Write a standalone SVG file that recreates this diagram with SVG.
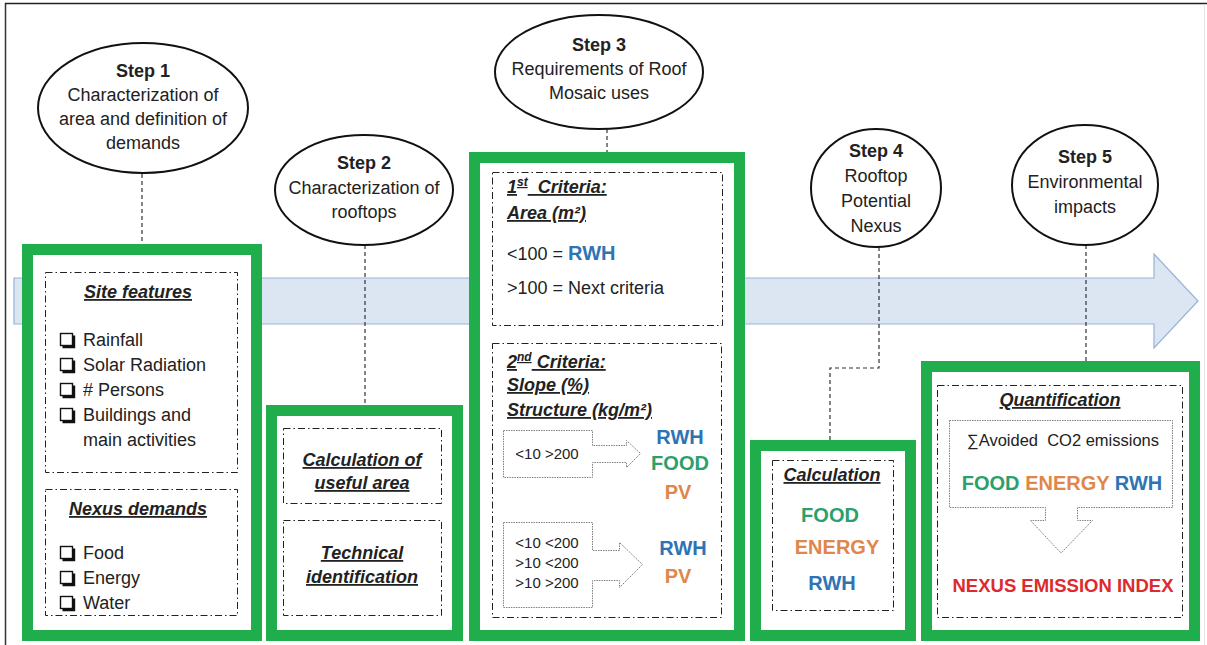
<svg xmlns="http://www.w3.org/2000/svg" width="1207" height="645" viewBox="0 0 1207 645">
<style>
text{font-family:"Liberation Sans",Arial,sans-serif;fill:#222;font-size:18px}
.m{text-anchor:middle}
.b{font-weight:bold}
.h{font-weight:bold;font-style:italic;text-decoration:underline}
.g{fill:#fff;stroke:#1fae4b;stroke-width:11}
.dd{fill:none;stroke:#222;stroke-width:1;stroke-dasharray:7 3 1.5 3}
.ell{fill:#fff;stroke:#111;stroke-width:2}
.con{fill:none;stroke:#333;stroke-width:1.2;stroke-dasharray:4 3}
.dot{fill:#fff;stroke:#808080;stroke-width:1;stroke-dasharray:1.5 1}
.k{font-weight:bold;font-size:20px}
.bl{fill:#2e74b5}
.gr{fill:#2b9f6c}
.or{fill:#e0864a}
.rd{fill:#dd2a2f}
.sm{font-size:15px}
.av{font-size:16.5px}
.nx{font-weight:bold;font-size:18.5px}
</style>
<defs>
<g id="cb">
<path d="M2.5,14 H14 V2.5" fill="none" stroke="#111" stroke-width="2.4"/>
<rect x="0.5" y="0.5" width="12" height="12" fill="#fff" stroke="#111" stroke-width="1.4"/>
</g>
</defs>
<rect width="1207" height="645" fill="#fff"/>
<g id="frame">
<line x1="5.5" y1="3" x2="5.5" y2="645" stroke="#333" stroke-width="1.5"/>
<line x1="5" y1="3.5" x2="1207" y2="3.5" stroke="#222" stroke-width="1.5"/>
<line x1="1204.5" y1="4" x2="1204.5" y2="645" stroke="#e4e4e4" stroke-width="1"/>
</g>
<g id="timeline">
<path d="M14,278 H1154 V254 L1198,301 L1154,348 V324 H14 Z" fill="#dce6f2" stroke="#95b3d7" stroke-width="1.2"/>
</g>
<g id="connectors">
<line class="con" x1="142" y1="174" x2="142" y2="244"/>
<line class="con" x1="365" y1="245" x2="365" y2="405"/>
<line class="con" x1="607" y1="129" x2="607" y2="152"/>
<path class="con" d="M879,247 V368 H830 V440"/>
<line class="con" x1="1086" y1="245" x2="1086" y2="361"/>
</g>
<g id="step1">
<ellipse class="ell" cx="143" cy="108" rx="105" ry="65"/>
<text class="m b" x="143" y="77">Step 1</text>
<text class="m" x="143" y="101">Characterization of</text>
<text class="m" x="143" y="125">area and definition of</text>
<text class="m" x="143" y="149">demands</text>
</g>
<g id="step2">
<ellipse class="ell" cx="364" cy="190" rx="89" ry="55"/>
<text class="m b" x="364" y="169">Step 2</text>
<text class="m" x="364" y="194">Characterization of</text>
<text class="m" x="364" y="218">rooftops</text>
</g>
<g id="step3">
<ellipse class="ell" cx="599" cy="72" rx="104" ry="57"/>
<text class="m b" x="599" y="51">Step 3</text>
<text class="m" x="599" y="75">Requirements of Roof</text>
<text class="m" x="599" y="99">Mosaic uses</text>
</g>
<g id="step4">
<ellipse class="ell" cx="876" cy="188" rx="65" ry="59"/>
<text class="m b" x="876" y="157">Step 4</text>
<text class="m" x="876" y="182">Rooftop</text>
<text class="m" x="876" y="207">Potential</text>
<text class="m" x="876" y="232">Nexus</text>
</g>
<g id="step5">
<ellipse class="ell" cx="1085" cy="185" rx="73" ry="60"/>
<text class="m b" x="1085" y="163">Step 5</text>
<text class="m" x="1085" y="188">Environmental</text>
<text class="m" x="1085" y="213">impacts</text>
</g>
<g id="box1">
<rect class="g" x="27.5" y="249.5" width="229" height="386"/>
<rect class="dd" x="45.5" y="272.5" width="192" height="200"/>
<text class="m h" x="138" y="298">Site features</text>
<use href="#cb" x="60" y="333"/><text x="83" y="346">Rainfall</text>
<use href="#cb" x="60" y="358"/><text x="83" y="371">Solar Radiation</text>
<use href="#cb" x="60" y="383"/><text x="83" y="396"># Persons</text>
<use href="#cb" x="60" y="408"/><text x="83" y="421">Buildings and</text>
<text x="83" y="446">main activities</text>
<rect class="dd" x="45.5" y="489.5" width="192" height="126"/>
<text class="m h" x="138" y="515">Nexus demands</text>
<use href="#cb" x="60" y="546"/><text x="83" y="559">Food</text>
<use href="#cb" x="60" y="571"/><text x="83" y="584">Energy</text>
<use href="#cb" x="60" y="596"/><text x="83" y="609">Water</text>
</g>
<g id="box2">
<rect class="g" x="271.5" y="410.5" width="186" height="225"/>
<rect class="dd" x="283.5" y="428.5" width="158" height="75"/>
<text class="m h" x="362" y="466">Calculation of</text>
<text class="m h" x="362" y="489">useful area</text>
<rect class="dd" x="283.5" y="520.5" width="158" height="95"/>
<text class="m h" x="362" y="559">Technical</text>
<text class="m h" x="362" y="583">identification</text>
</g>
<g id="box3">
<rect class="g" x="474.5" y="157.5" width="265" height="478"/>
<rect class="dd" x="492.5" y="172.5" width="230" height="153"/>
<text class="h" x="507" y="193">1<tspan dy="-7" font-size="12">st</tspan><tspan dy="7">&#160; Criteria:</tspan></text>
<text class="h" x="507" y="219">Area (m²)</text>
<text x="507" y="260">&lt;100 = <tspan class="k bl">RWH</tspan></text>
<text x="507" y="294">&gt;100 = Next criteria</text>
<rect class="dd" x="492.5" y="343.5" width="229" height="274"/>
<text class="h" x="507" y="368">2<tspan dy="-7" font-size="12">nd</tspan><tspan dy="7"> Criteria:</tspan></text>
<text class="h" x="507" y="391">Slope (%)</text>
<text class="h" x="507" y="416">Structure (kg/m²)</text>
<path class="dot" d="M503.5,430.5 H592.5 V445.5 H626.5 V440.5 L640.5,453.5 L626.5,467.5 V462.5 H592.5 V477.5 H503.5 Z"/>
<text class="m sm" x="547" y="459">&lt;10 &gt;200</text>
<text class="m k bl" x="680" y="444">RWH</text>
<text class="m k gr" x="680" y="470">FOOD</text>
<text class="m k or" x="678" y="499">PV</text>
<path class="dot" d="M503.5,522.5 H592.5 V550.5 H619.5 V542.5 L642.5,564.5 L619.5,587.5 V580.5 H592.5 V607.5 H503.5 Z"/>
<text class="m sm" x="547" y="548">&lt;10 &lt;200</text>
<text class="m sm" x="547" y="568">&gt;10 &lt;200</text>
<text class="m sm" x="547" y="588">&gt;10 &gt;200</text>
<text class="m k bl" x="683" y="555">RWH</text>
<text class="m k or" x="678" y="583">PV</text>
</g>
<g id="box4">
<rect class="g" x="755.5" y="445.5" width="155" height="190"/>
<rect class="dd" x="772.5" y="460.5" width="121" height="150"/>
<text class="m h" x="832" y="481">Calculation</text>
<text class="m k gr" x="830" y="522">FOOD</text>
<text class="m k or" x="837" y="554">ENERGY</text>
<text class="m k bl" x="832" y="590">RWH</text>
</g>
<g id="box5">
<rect class="g" x="926.5" y="366.5" width="268" height="269"/>
<rect class="dd" x="937.5" y="385.5" width="245" height="232"/>
<text class="m h" x="1060" y="406">Quantification</text>
<path class="dot" d="M949.5,420.5 H1172.5 V507.5 H1077.5 V520.5 H1092.5 L1061,553 L1030.5,520.5 H1045.5 V507.5 H949.5 Z"/>
<text class="m av" x="1063" y="446">∑Avoided&#160; CO2 emissions</text>
<text class="m k" x="1062" y="490"><tspan class="gr">FOOD</tspan> <tspan class="or">ENERGY</tspan> <tspan class="bl">RWH</tspan></text>
<text class="m nx rd" x="1063" y="592">NEXUS EMISSION INDEX</text>
</g>
</svg>
